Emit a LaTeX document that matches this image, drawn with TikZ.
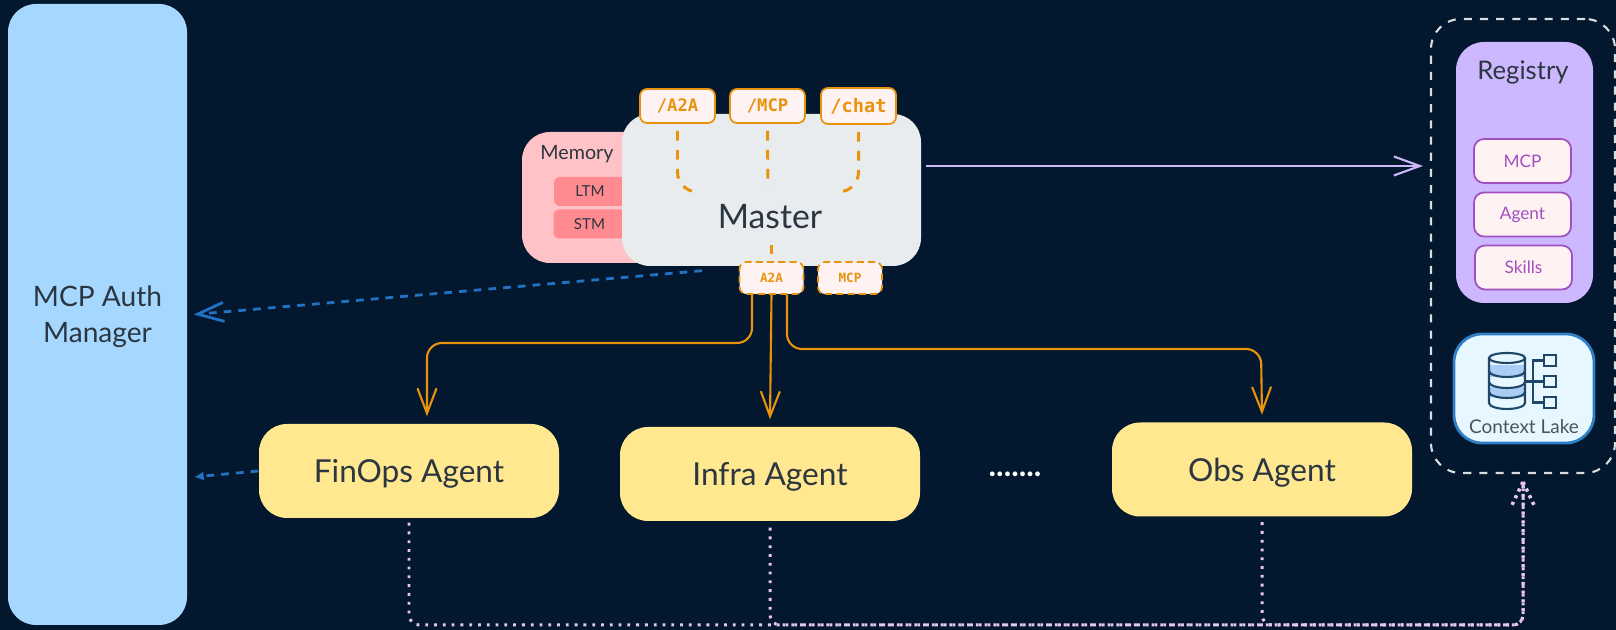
\documentclass[tikz,border=0pt]{standalone}
\usepackage{fontspec}
\setmainfont{Lato}
\newfontfamily\portfont{DejaVu Sans Mono}
\usepackage{tikz}
\usetikzlibrary{arrows.meta}
\definecolor{navybg}{HTML}{03172F}
\definecolor{authblue}{HTML}{A6D8FF}
\definecolor{inkgrey}{HTML}{2B3640}
\definecolor{memorypink}{HTML}{FFC2C7}
\definecolor{memoryred}{HTML}{FF8A8F}
\definecolor{masterfill}{HTML}{E8ECEF}
\definecolor{agentyellow}{HTML}{FFE88F}
\definecolor{portorange}{HTML}{E8930C}
\definecolor{portfill}{HTML}{FFF2F2}
\definecolor{reglilac}{HTML}{CDB8FF}
\definecolor{regpurple}{HTML}{A050C0}
\definecolor{lakefill}{HTML}{E6F7FF}
\definecolor{lakeblue}{HTML}{2F7FC8}
\definecolor{iconblue}{HTML}{1F4768}
\definecolor{bandblue}{HTML}{A9CDF5}
\definecolor{authline}{HTML}{2272C3}
\definecolor{lavender}{HTML}{C9B8F5}
\definecolor{dotpink}{HTML}{E6C6F2}
\tikzset{
    box/.style={rounded corners=.28cm,inner sep=0pt,text=inkgrey,align=center},
    agent/.style={box,fill=agentyellow,minimum width=3cm,minimum height=.94cm,text depth=0pt,font=\fontsize{9}{11}\selectfont},
    memcell/.style={box,rounded corners=.06cm,fill=memoryred,minimum width=.72cm,minimum height=.29cm,font=\fontsize{4.3}{6}\selectfont},
    portin/.style={box,rounded corners=.07cm,draw=portorange,line width=.5pt,fill=portfill,text=portorange,minimum width=.75cm,minimum height=.34cm,font=\portfont\bfseries\fontsize{4.9}{6}\selectfont},
    portout/.style={portin,dashed,dash pattern=on 2pt off 1.2pt,minimum width=.64cm,minimum height=.32cm,font=\portfont\bfseries\fontsize{3.6}{5}\selectfont},
    regcell/.style={box,rounded corners=.1cm,draw=regpurple,line width=.5pt,fill=portfill,text=regpurple,minimum width=.97cm,minimum height=.44cm,font=\fontsize{4.9}{6}\selectfont},
    flowline/.style={draw=portorange,line width=.6pt,rounded corners=.15cm,-{Straight Barb[length=2.5mm,width=1.9mm]}},
    portline/.style={draw=portorange,line width=.85pt,dash pattern=on 2.8pt off 2.6pt,rounded corners=.2cm},
    authdash/.style={draw=authline,line width=.8pt,dash pattern=on 2.2pt off 2pt},
    dotline/.style={draw=dotpink,line width=.85pt,dash pattern=on .8pt off 1.7pt,rounded corners=.1cm}
}
\begin{document}
\begin{tikzpicture}
    \useasboundingbox (0,0) rectangle (16.16,6.3);
    \fill[navybg] (0,0) rectangle (16.16,6.3);
    % left column
    \node[box,fill=authblue,minimum width=1.79cm,minimum height=6.21cm,text depth=0pt,font=\fontsize{8}{10.2}\selectfont] (auth) at (0.975,3.155) {MCP Auth\\Manager};
    % memory sits behind the master
    \node[box,fill=memorypink,minimum width=1.6cm,minimum height=1.31cm] (memory) at (6.02,4.325) {};
    \node[text=inkgrey,inner sep=0pt,font=\fontsize{5.6}{7}\selectfont] (memlabel) at (5.77,4.76) {Memory};
    \node[memcell] (ltm) at (5.90,4.385) {LTM};
    \node[memcell] (stm) at (5.895,4.06) {STM};
    \node[box,fill=masterfill,minimum width=2.99cm,minimum height=1.52cm] (master) at (7.715,4.4) {};
    \node[text=inkgrey,inner sep=0pt,font=\fontsize{9.6}{12}\selectfont] (masterlabel) at (7.70,4.13) {Master};
    % ports on top of the master
    \node[portin] (a2ain) at (6.775,5.24) {/A2A};
    \node[portin] (mcpin) at (7.675,5.24) {/MCP};
    \node[portin,minimum height=.36cm,font=\portfont\bfseries\fontsize{5.3}{6}\selectfont] (chatin) at (8.585,5.24) {/chat};
    \node[portout] (a2aout) at (7.715,3.52) {A2A};
    \node[portout] (mcpout) at (8.50,3.52) {MCP};
    \coordinate (a2acurve) at (7.00,4.38);
    \coordinate (mcpend) at (7.68,4.42);
    \coordinate (chatcurve) at (8.40,4.38);
    \draw[portline] ([yshift=-.07cm]a2ain.south) |- (a2acurve);
    \draw[portline] ([yshift=-.07cm]mcpin.south) -- (mcpend);
    \draw[portline] ([yshift=-.07cm]chatin.south) |- (chatcurve);
    \draw[portline] ([yshift=.07cm]a2aout.north) -- ([yshift=.16cm]a2aout.north);
    % agents
    \node[agent] (finops) at (4.09,1.59) {FinOps Agent};
    \node[agent] (infra) at (7.70,1.56) {Infra Agent};
    \node[agent] (obs) at (12.62,1.605) {Obs Agent};
    \node[text=white,inner sep=0pt,font=\bfseries\fontsize{9}{11}\selectfont] (dots) at (10.15,1.56) {.......};
    % right column
    \node[draw=white!85!navybg,dashed,dash pattern=on 2.3pt off 2.3pt,line width=.6pt,rounded corners=.3cm,minimum width=1.84cm,minimum height=4.54cm,inner sep=0pt] (lakebox) at (15.23,3.84) {};
    \node[box,fill=reglilac,minimum width=1.37cm,minimum height=2.61cm] (registry) at (15.245,4.575) {};
    \node[text=inkgrey,inner sep=0pt,font=\fontsize{7.3}{9}\selectfont] (reglabel) at (15.23,5.58) {Registry};
    \node[regcell] (regmcp) at (15.225,4.69) {MCP};
    \node[regcell] (regagent) at (15.225,4.155) {Agent};
    \node[regcell] (regskills) at (15.235,3.625) {Skills};
    \node[box,fill=lakefill,draw=lakeblue,line width=.8pt,minimum width=1.4cm,minimum height=1.09cm] (lake) at (15.24,2.415) {};
    \node[text=inkgrey!85!white,inner sep=0pt,font=\fontsize{5.4}{7}\selectfont] (laketext) at (15.24,2.03) {Context Lake};
    % database icon
    \fill[bandblue] (14.89,2.65) rectangle (15.25,2.53);
    \fill[bandblue] (14.89,2.43) rectangle (15.25,2.33);
    \draw[iconblue,line width=.6pt] (14.89,2.72) -- (14.89,2.27) arc (180:360:.18 and .06) -- (15.25,2.72);
    \draw[iconblue,line width=.6pt] (15.07,2.72) ellipse (.18 and .05);
    \draw[iconblue,line width=.6pt] (14.89,2.59) arc (180:360:.18 and .06);
    \draw[iconblue,line width=.6pt] (14.89,2.48) arc (180:360:.18 and .06);
    \draw[iconblue,line width=.6pt] (14.89,2.38) arc (180:360:.18 and .06);
    \draw[iconblue,line width=.6pt] (15.44,2.64) rectangle (15.56,2.75);
    \draw[iconblue,line width=.6pt] (15.44,2.43) rectangle (15.56,2.54);
    \draw[iconblue,line width=.6pt] (15.44,2.22) rectangle (15.56,2.33);
    \draw[iconblue,line width=.6pt] (15.44,2.695) -- (15.33,2.695) -- (15.33,2.275) -- (15.44,2.275);
    \draw[iconblue,line width=.6pt] (15.25,2.485) -- (15.44,2.485);
    % connectors
    \coordinate (finbend) at (4.27,2.87);
    \coordinate (obsbend) at (12.61,2.81);
    \draw[flowline] ([xshift=-.195cm]a2aout.south) |- (finbend) -- ([xshift=.18cm,yshift=.07cm]finops.north);
    \draw[flowline] (a2aout.south) -- ([yshift=.07cm]infra.north);
    \draw[flowline] ([xshift=.155cm]a2aout.south) |- (obsbend) -- ([yshift=.07cm]obs.north);
    \draw[authdash,-{Straight Barb[length=2.6mm,width=1.9mm]}] ([xshift=-.695cm,yshift=-.04cm]master.south) -- ([xshift=.06cm]auth.east);
    \draw[authdash,-{Latex[length=1mm,width=.9mm]}] (finops.west) -- ([xshift=.06cm,yshift=-1.625cm]auth.east);
    \draw[lavender,line width=.6pt,-{Straight Barb[length=2.6mm,width=1.9mm]}] ([xshift=.04cm,yshift=.24cm]master.east) -- ([xshift=-.07cm,yshift=.8cm]lakebox.west);
    \coordinate (dotcorner) at (15.23,0.05);
    \coordinate (dottip) at (15.23,1.48);
    \draw[dotline] ([yshift=-.04cm]finops.south) |- (dotcorner) -- (dottip);
    \draw[dotline] ([yshift=-.06cm]infra.south) |- (dotcorner) -- (dottip);
    \draw[dotline] ([yshift=-.05cm]obs.south) |- (dotcorner) -- (dottip);
    \draw[dotline,line width=1pt,dash pattern=on .9pt off 1.2pt] (dottip) -- ++(-.11,-.23);
    \draw[dotline,line width=1pt,dash pattern=on .9pt off 1.2pt] (dottip) -- ++(.11,-.23);
\end{tikzpicture}
\end{document}
